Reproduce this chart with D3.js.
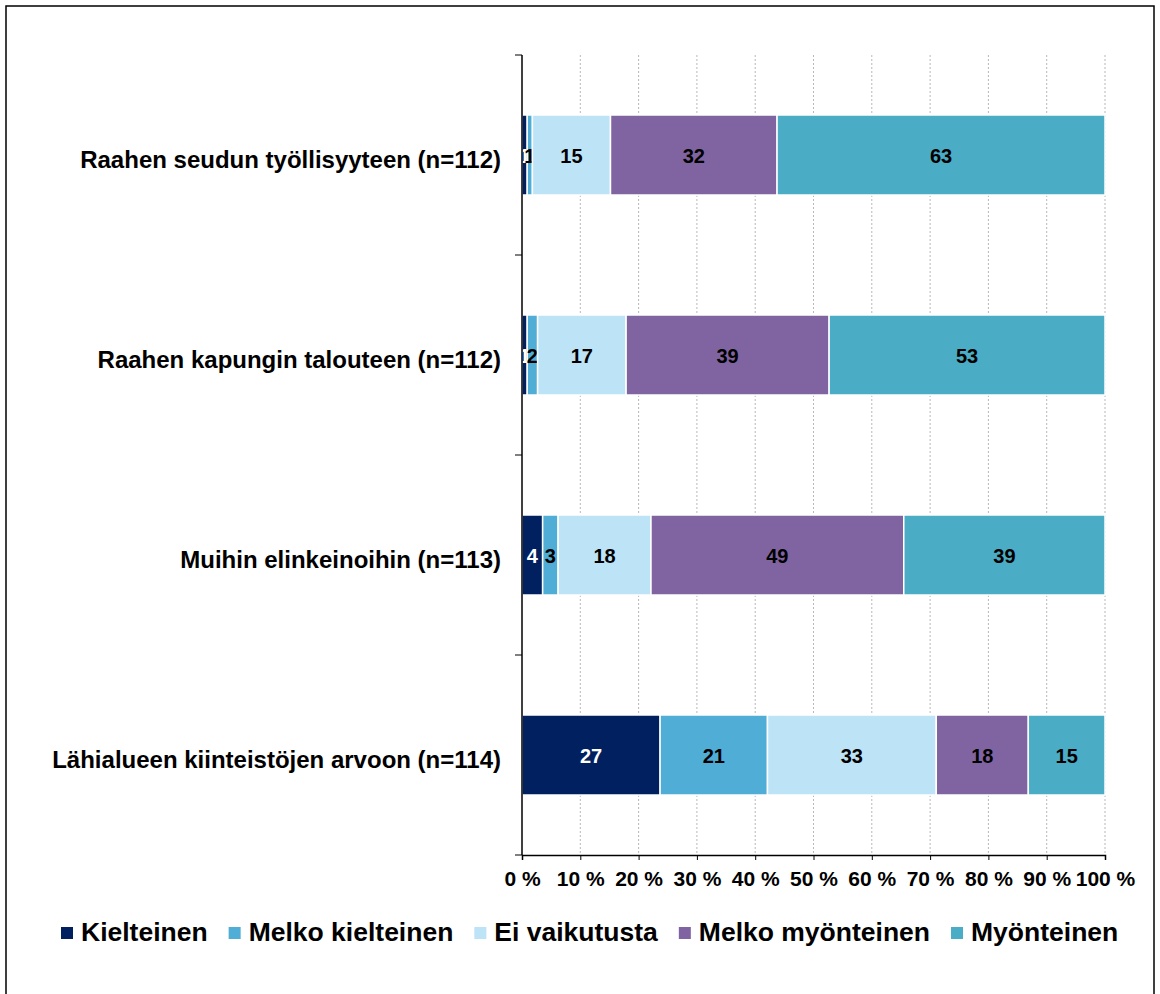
<!DOCTYPE html>
<html>
<head>
<meta charset="utf-8">
<script src="https://cdn.jsdelivr.net/npm/d3@7"></script>
<style>
  body { margin: 0; background: #fff; }
  text { font-family: Arial, "Liberation Sans", sans-serif; font-weight: bold; }
</style>
</head>
<body>
<div id="chart"></div>
<script>
const width = 1160;
const height = 994;
const margin = {top: 55, right: 55, bottom: 139, left: 522};

const categories = [
    "Raahen seudun työllisyyteen (n=112)",
    "Raahen kapungin talouteen (n=112)",
    "Muihin elinkeinoihin (n=113)",
    "Lähialueen kiinteistöjen arvoon (n=114)"
];
const seriesNames = ["Kielteinen", "Melko kielteinen", "Ei vaikutusta", "Melko myönteinen", "Myönteinen"];
const seriesColors = ["#002060", "#4fadd6", "#bde3f6", "#8064a2", "#4bacc6"];
const labelColors = ["#fff", "#000", "#000", "#000", "#000"];

// vastaajien lukumäärät (n), jokainen sarja omana listanaan
const kielteinen = [1, 1, 4, 27];
const melkoKielteinen = [1, 2, 3, 21];
const eiVaikutusta = [15, 17, 18, 33];
const melkoMyonteinen = [32, 39, 49, 18];
const myonteinen = [63, 53, 39, 15];

const xTicks = [0, 10, 20, 30, 40, 50, 60, 70, 80, 90, 100];

const seriesValues = [kielteinen, melkoKielteinen, eiVaikutusta, melkoMyonteinen, myonteinen];

const rows = categories.map((c, i) => {
    const row = {category: c};
    seriesNames.forEach((s, j) => row[s] = seriesValues[j][i]);
    return row;
});

const stacked = d3.stack().keys(seriesNames)
    .offset(d3.stackOffsetExpand)(rows);

const svg = d3.select("#chart")
    .append("svg")
    .attr("width", width)
    .attr("height", height);

// kehys
svg.append("rect")
    .attr("x", 6).attr("y", 6)
    .attr("width", 1148).attr("height", 1000)
    .attr("fill", "none")
    .attr("stroke", "#000")
    .attr("stroke-width", 1.5);

const x = d3.scaleLinear().domain([0, 100]).range([margin.left, width - margin.right]);
const y = d3.scaleBand().domain(categories)
    .range([margin.top, height - margin.bottom])
    .paddingInner(0.6).paddingOuter(0.3);
const yOuter = d3.scaleBand().domain(categories).range([margin.top, height - margin.bottom]);

// pystysuorat apuviivat
svg.append("g")
    .selectAll("line")
    .data(xTicks.slice(1))
    .join("line")
    .attr("x1", d => x(d)).attr("x2", d => x(d))
    .attr("y1", margin.top).attr("y2", height - margin.bottom)
    .attr("stroke", "#b8b8b8")
    .attr("stroke-dasharray", "2,2");

// palkit
const layers = svg.append("g")
    .selectAll("g")
    .data(stacked)
    .join("g")
    .attr("fill", (d, i) => seriesColors[i]);

layers.selectAll("rect")
    .data(d => d)
    .join("rect")
    .attr("x", d => x(d[0] * 100))
    .attr("y", d => y(d.data.category))
    .attr("width", d => x(d[1] * 100) - x(d[0] * 100))
    .attr("height", y.bandwidth())
    .attr("stroke", "#fff")
    .attr("stroke-width", 1.5);

layers.each(function(layer, i) {
    d3.select(this).selectAll("text")
        .data(layer)
        .join("text")
        .attr("x", d => x((d[0] + d[1]) * 50))
        .attr("y", d => y(d.data.category) + y.bandwidth() / 2 + 8)
        .attr("text-anchor", "middle")
        .attr("font-size", "20px")
        .attr("fill", labelColors[i])
        .text(d => d.data[layer.key]);
});

// y-akseli
const yAxis = svg.append("g")
    .attr("transform", `translate(${margin.left},0)`);
yAxis.append("line")
    .attr("x1", 0).attr("x2", 0)
    .attr("y1", margin.top).attr("y2", height - margin.bottom)
    .attr("stroke", "#000").attr("stroke-width", 1.5);
yAxis.selectAll(".tick")
    .data(categories.map(c => yOuter(c)).concat([height - margin.bottom]))
    .join("line")
    .attr("x1", -7).attr("x2", 0)
    .attr("y1", d => d).attr("y2", d => d)
    .attr("stroke", "#000");
yAxis.selectAll("text")
    .data(categories)
    .join("text")
    .attr("x", -21)
    .attr("y", d => y(d) + y.bandwidth() / 2 + 13)
    .attr("text-anchor", "end")
    .attr("font-size", "24px")
    .attr("fill", "#000")
    .text(d => d);

// x-akseli
const xAxis = d3.axisBottom(x)
    .tickValues(xTicks)
    .tickSize(5)
    .tickFormat(d => d + " %");
const gx = svg.append("g")
    .attr("transform", `translate(0,${height - margin.bottom})`)
    .call(xAxis);
gx.select(".domain").attr("stroke", "#000").attr("stroke-width", 1.5);
gx.selectAll(".tick text")
    .attr("font-family", "Arial, 'Liberation Sans', sans-serif")
    .attr("font-size", "21px")
    .attr("font-weight", "bold")
    .attr("fill", "#000")
    .attr("y", 16)
    .attr("dy", "0.71em");

// selite
const legend = svg.append("g").attr("transform", "translate(61,941)");
let lx = 0;
seriesNames.forEach((s, i) => {
    legend.append("rect")
        .attr("x", lx).attr("y", -14)
        .attr("width", 12).attr("height", 12)
        .attr("fill", seriesColors[i]);
    const t = legend.append("text")
        .attr("x", lx + 20).attr("y", 0)
        .attr("font-size", "26.5px")
        .attr("fill", "#000")
        .text(s);
    lx += 20 + t.node().getComputedTextLength() + 21;
});
</script>
</body>
</html>
